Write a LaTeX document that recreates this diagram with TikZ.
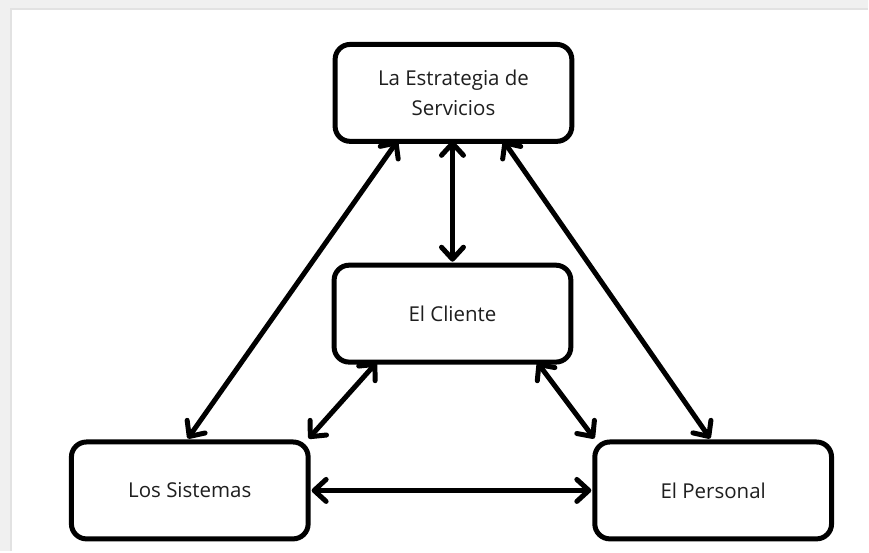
\documentclass[tikz,border=0pt]{standalone}
\usepackage{fontspec}
\setmainfont{Open Sans}
\usetikzlibrary{arrows.meta}
\definecolor{frame}{HTML}{F0F0F0}
\definecolor{frameline}{HTML}{E2E2E2}
\definecolor{txt}{HTML}{1E1E1E}
\begin{document}
\begin{tikzpicture}[x=1pt,y=-1pt,
  box/.style={draw=black,line width=5pt,rounded corners=15pt,fill=white,
    minimum width=237pt,minimum height=97pt,align=center,
    font=\fontsize{20.5}{30}\selectfont,text=txt,anchor=north west},
  tip/.tip={Straight Barb[length=12pt,width=22pt,line width=5pt,round]},
  link/.style={line width=5pt,tip-tip}]
  % page frame
  \fill[frame] (0,0) rectangle (869,552);
  \fill[white] (12,10) rectangle (869,552);
  \draw[frameline,line width=2pt] (11,552) -- (11,9) -- (869,9);
  \useasboundingbox (0,0) rectangle (869,552);
  % boxes
  \node[box] (est) at (333,42) {La Estrategia de\\Servicios};
  \node[box] (cli) at (332,263) {El Cliente};
  \node[box] (sis) at (69,440) {Los Sistemas};
  \node[box] (per) at (593,440) {El Personal};
  % connectors
  \coordinate (e1) at (398,141);
  \coordinate (e2) at (453,141);
  \coordinate (e3) at (504,141);
  \coordinate (c1) at (377,363);
  \coordinate (c2) at (538,363);
  \draw[link] (e2) -- ([yshift=1pt]cli.north -| e2);
  \draw[link] (e1) -- ([yshift=1pt]sis.north -| 188,0);
  \draw[link] (e3) -- ([yshift=1pt]per.north -| 711,0);
  \draw[link] (c1) -- ([shift={(-2pt,1pt)}]sis.north east);
  \draw[link] (c2) -- ([shift={(2pt,1pt)}]per.north west);
  \draw[link] ([xshift=1pt]sis.east) -- ([xshift=-1pt]per.west);
\end{tikzpicture}
\end{document}
